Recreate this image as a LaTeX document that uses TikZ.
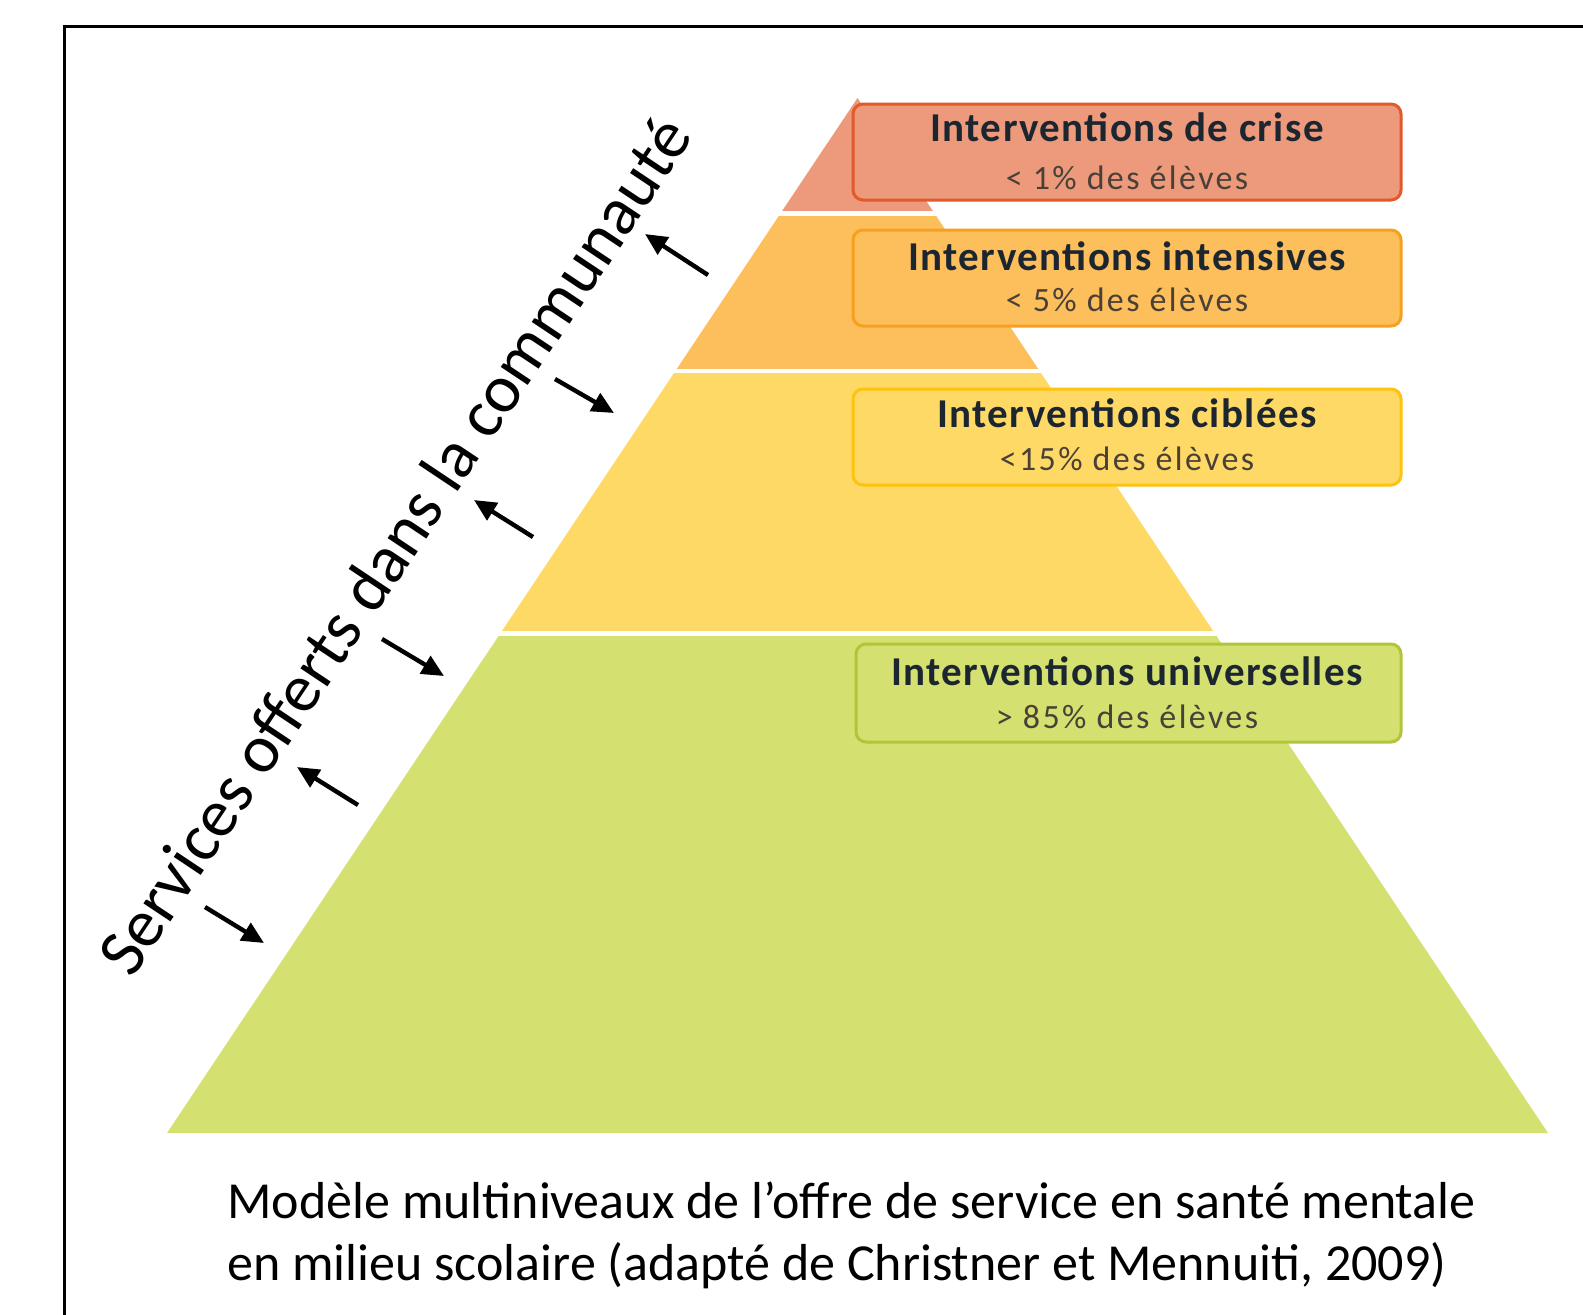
\documentclass[tikz,border=0pt]{standalone}
\usepackage{fontspec}
\setmainfont{Carlito}
\newfontfamily\titlefont[LetterSpace=3.5]{Carlito}
\newfontfamily\subfont[LetterSpace=7]{Carlito}
\usetikzlibrary{arrows.meta}
\definecolor{redL}{HTML}{EC9A7B}
\definecolor{redB}{HTML}{E05A2B}
\definecolor{orL}{HTML}{FDBE5C}
\definecolor{orB}{HTML}{F6A11E}
\definecolor{yeL}{HTML}{FED966}
\definecolor{yeB}{HTML}{FFC20E}
\definecolor{grL}{HTML}{D4E070}
\definecolor{grB}{HTML}{B3C43B}
\definecolor{txt}{HTML}{1C2631}
\definecolor{txtb}{HTML}{4A4038}
\tikzset{
  lbox/.style={draw, line width=1.5pt, rounded corners=5pt, minimum width=274pt, minimum height=48pt, inner sep=0pt},
  titletext/.style={font=\titlefont\fontsize{20.5}{24}\selectfont\bfseries, text=txt, inner sep=0pt, anchor=base},
  subtext/.style={font=\subfont\fontsize{17}{20}\selectfont, text=txtb, inner sep=0pt, anchor=base},
  arr/.style={line width=2.2pt, -{Triangle[length=11pt,width=10pt]}},
  captext/.style={font=\fontsize{26}{30}\selectfont, anchor=base west, inner sep=0pt}
}
\begin{document}
\begin{tikzpicture}[x=0.5pt,y=-0.5pt]
\useasboundingbox (0,0) rectangle (1583,1314);
\fill[white] (0,0) rectangle (1583,1314);
\begin{scope}
\clip (0,0) rectangle (1583,1314);
\draw[line width=1.5pt] (64.5,26.5) rectangle (1700,1400);
\end{scope}
% pyramid
\coordinate (apex) at (857.5,98);
\coordinate (bl) at (167,1133);
\coordinate (br) at (1548,1133);
\foreach \ya/\yb/\c in {98/210/redL, 216/368.5/orL, 373.5/630/yeL, 636/1133/grL} {
  \begin{scope}
  \clip (0,\ya) rectangle (1583,\yb);
  \fill[\c] (apex) -- (bl) -- (br) -- cycle;
  \end{scope}
}
% boxes
\node[lbox, fill=redL, draw=redB] (b1) at (1127,152) {};
\node[lbox, fill=orL, draw=orB] (b2) at (1127,278) {};
\node[lbox, fill=yeL, draw=yeB] (b3) at (1127,437) {};
\node[lbox, fill=grL, draw=grB, minimum width=272.5pt, minimum height=49pt] (b4) at (1128.5,693) {};
\node[titletext] (t1) at (1127,141) {Interventions de crise};
\node[subtext] (s1) at (1127,189) {< 1\% des élèves};
\node[titletext] (t2) at (1127,270) {Interventions intensives};
\node[subtext] (s2) at (1127,311) {< 5\% des élèves};
\node[titletext] (t3) at (1127,427) {Interventions ciblées};
\node[subtext] (s3) at (1127,470) {<15\% des élèves};
\node[titletext] (t4) at (1127,685) {Interventions universelles};
\node[subtext] (s4) at (1127,728) {> 85\% des élèves};
% rotated label
\node[rotate=56.3, font=\fontsize{34}{38}\selectfont, inner sep=0pt] (svc) at (394,545) {Services offerts dans la communauté};
% arrows
\coordinate (a1t) at (708,275); \coordinate (a1h) at (645,234);
\coordinate (a2t) at (555,379); \coordinate (a2h) at (614,413);
\coordinate (a3t) at (533,537); \coordinate (a3h) at (474,500);
\coordinate (a4t) at (382,639); \coordinate (a4h) at (444,676);
\coordinate (a5t) at (358,805); \coordinate (a5h) at (297,767);
\coordinate (a6t) at (205,907); \coordinate (a6h) at (264,943);
\draw[arr] (a1t) -- (a1h);
\draw[arr] (a2t) -- (a2h);
\draw[arr] (a3t) -- (a3h);
\draw[arr] (a4t) -- (a4h);
\draw[arr] (a5t) -- (a5h);
\draw[arr] (a6t) -- (a6h);
% caption
\node[captext] (c1) at (227,1218) {Modèle multiniveaux de l’offre de service en santé mentale};
\node[captext] (c2) at (227,1280) {en milieu scolaire (adapté de Christner et Mennuiti, 2009)};
\end{tikzpicture}
\end{document}
